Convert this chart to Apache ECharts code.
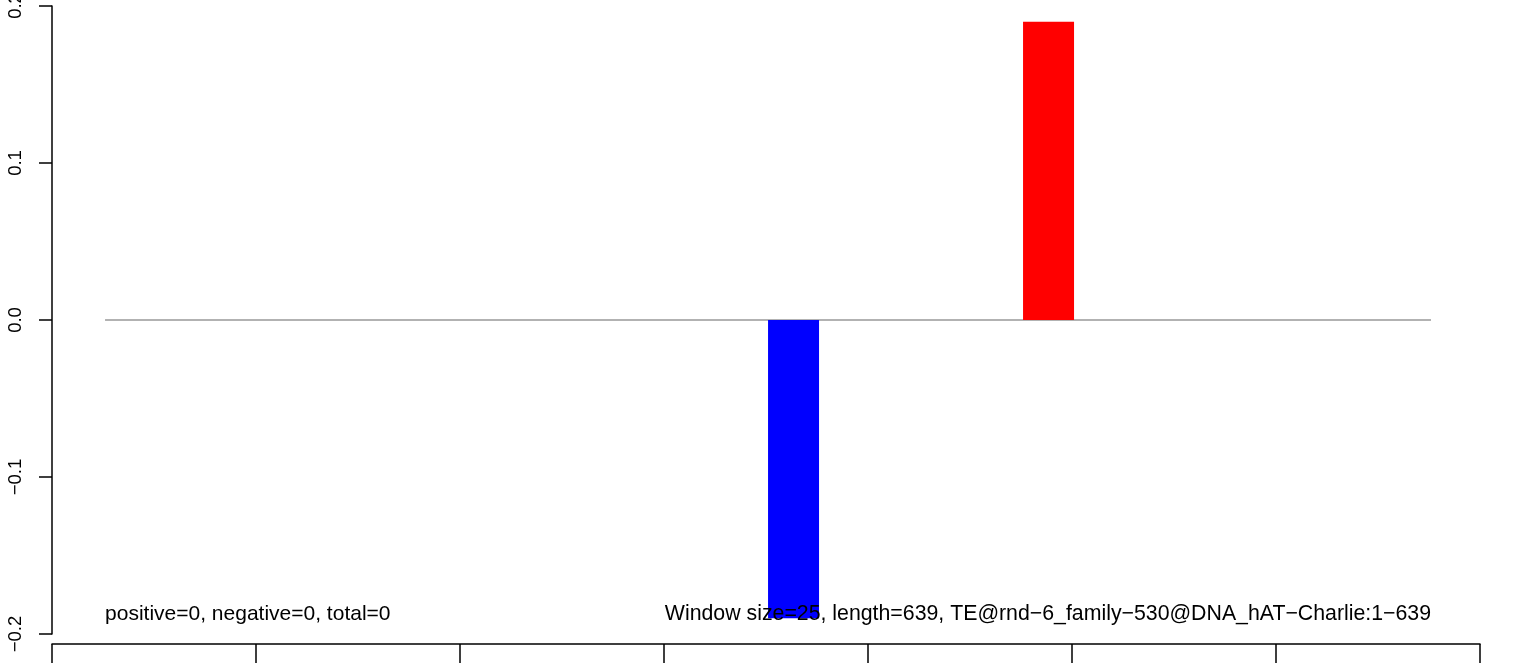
<!DOCTYPE html>
<html>
<head>
<meta charset="utf-8">
<script src="https://cdn.jsdelivr.net/npm/echarts@6/dist/echarts.min.js"></script>
<style>html,body{margin:0;padding:0;background:#fff;}#c{width:1533px;height:663px;}</style>
</head>
<body>
<div id="c"></div>
<script>
// ---- data ----
const xTicks = [0, 100, 200, 300, 400, 500, 600, 700];
const yTicks = [-0.2, -0.1, 0.0, 0.1, 0.2];
const barStart = [351, 476];
const barEnd = [376, 501];
const barValue = [-0.19, 0.19];
const baseLine = [[26, 0], [676, 0]];
const leftNote = 'positive=0, negative=0, total=0';
const rightNote = 'Window size=25, length=639, TE@rnd\u22126_family\u2212530@DNA_hAT\u2212Charlie:1\u2212639';
const noteAt = { xLeft: 26, xRight: 676, y: -0.1875 };

const FONT = '"Liberation Sans", Arial, Helvetica, sans-serif';
const chart = echarts.init(document.getElementById('c'), null, { renderer: 'canvas' });

const barData = barStart.map((s, i) => [s, barEnd[i], barValue[i]]);

chart.setOption({
  animation: false,
  backgroundColor: '#ffffff',
  grid: { left: 52, right: 53, top: 6, bottom: 29, containLabel: false, outerBoundsMode: 'none' },
  xAxis: {
    type: 'value',
    min: xTicks[0], max: xTicks[xTicks.length - 1], interval: 100,
    position: 'bottom', offset: 10,
    axisLine: { show: true, onZero: false, lineStyle: { color: '#000', width: 1.5 } },
    axisTick: { show: true, length: 20, lineStyle: { color: '#000', width: 1.5 } },
    axisLabel: { show: false },
    splitLine: { show: false }
  },
  yAxis: {
    type: 'value',
    min: yTicks[0], max: yTicks[yTicks.length - 1], interval: 0.1,
    position: 'left', offset: 1,
    axisLine: { show: true, lineStyle: { color: '#000', width: 1.5 } },
    axisTick: { show: true, length: 13, lineStyle: { color: '#000', width: 1.5 } },
    axisLabel: {
      show: true, rotate: 90, margin: 26, hideOverlap: false, showMinLabel: true, showMaxLabel: true,
      fontFamily: FONT, fontSize: 18.5, color: '#000',
      formatter: v => (Math.abs(v) < 1e-9 ? '0.0' : v.toFixed(1).replace('-', '\u2212'))
    },
    splitLine: { show: false }
  },
  series: [
    {
      type: 'custom',
      data: [baseLine[0].concat(baseLine[1])],
      renderItem: (params, api) => {
        const p1 = api.coord([api.value(0), api.value(1)]);
        const p2 = api.coord([api.value(2), api.value(3)]);
        return { type: 'line', shape: { x1: p1[0], y1: p1[1], x2: p2[0], y2: p2[1] },
                 style: { stroke: '#999999', lineWidth: 1.3 } };
      },
      z: 1
    },
    {
      type: 'custom',
      data: barData,
      renderItem: (params, api) => {
        const v = api.value(2);
        const a = api.coord([api.value(0), 0]);
        const b = api.coord([api.value(1), v]);
        return { type: 'rect',
                 shape: { x: a[0], y: Math.min(a[1], b[1]), width: b[0] - a[0], height: Math.abs(b[1] - a[1]) },
                 style: { fill: v < 0 ? '#0000ff' : '#ff0000' } };
      },
      z: 2
    },
    {
      type: 'custom',
      data: [[noteAt.xLeft, noteAt.y, 0], [noteAt.xRight, noteAt.y, 1]],
      renderItem: (params, api) => {
        const p = api.coord([api.value(0), api.value(1)]);
        const right = api.value(2) === 1;
        return { type: 'text', x: p[0], y: p[1],
                 style: { text: right ? rightNote : leftNote, fill: '#000',
                          font: (right ? '21.3px ' : '21px ') + FONT,
                          align: right ? 'right' : 'left', verticalAlign: 'middle' } };
      },
      z: 3
    }
  ]
});
</script>
</body>
</html>
